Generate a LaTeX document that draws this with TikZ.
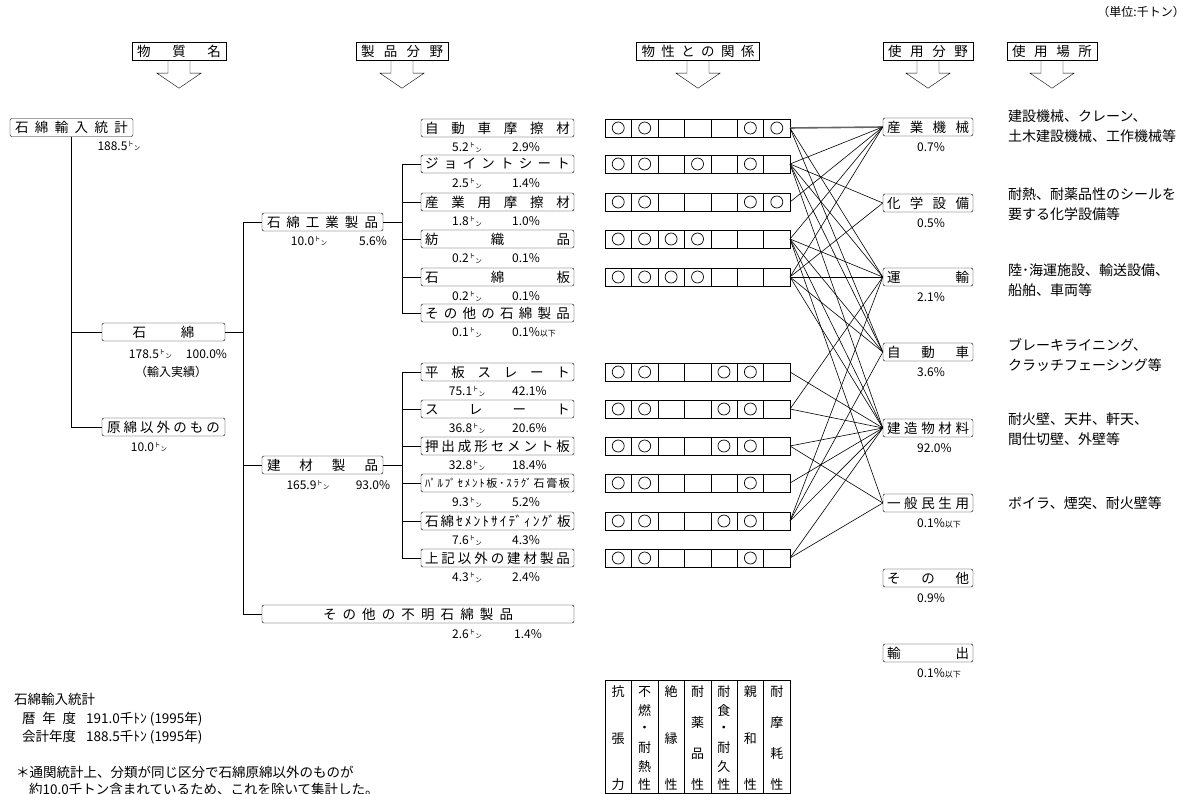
\documentclass[tikz,border=0pt]{standalone}
\usepackage{fontspec}
\setmainfont{Noto Sans CJK JP}
\newcommand{\spr}[2]{\makebox[#1][s]{#2}}
\newcommand{\ika}{{\fontsize{8}{8}\selectfont 以下}}
\newcommand{\ton}{{\fontsize{6.5}{7}\selectfont\raisebox{4pt}{ト}\raisebox{-0.5pt}{ン}}}
\begin{document}
\begin{tikzpicture}[x=1pt, y=-1pt,
    item/.style={draw, rounded corners=2pt, inner sep=0pt, minimum height=18pt, font=\fontsize{13.5}{14}\selectfont},
    head/.style={draw, inner sep=0pt, minimum height=18pt, font=\fontsize{13.5}{14}\selectfont},
    val/.style={inner sep=0pt, font=\fontsize{12}{13}\selectfont},
    note/.style={inner sep=0pt, anchor=west, align=left, font=\fontsize{14}{19.5}\selectfont},
    link/.style={line width=0.6pt}
  ]
  \useasboundingbox (0,0) rectangle (1189,794);

  % headers
  \node[val, anchor=east] (unit) at (1185,12) {（単位:千トン）};
  \node[head, minimum width=94pt] (hdsub) at (179,51) {\spr{84pt}{物 質 名}};
  \node[head, minimum width=92pt] (hdprod) at (402,51) {\spr{82pt}{製 品 分 野}};
  \node[head, minimum width=123pt] (hdprop) at (698,51) {\spr{113pt}{物 性 と の 関 係}};
  \node[head, minimum width=90pt] (hduse) at (928,51) {\spr{80pt}{使 用 分 野}};
  \node[head, minimum width=90pt] (hdsite) at (1052,51) {\spr{80pt}{使 用 場 所}};
  \foreach \h in {hdsub, hdprod, hdprop, hduse, hdsite}
    \draw ([xshift=-11pt]\h.south) -- ++(0,13) -- ++(-11,0) -- ++(22,15) -- ++(22,-15) -- ++(-11,0) -- ([xshift=11pt]\h.south);

  % substance tree
  \node[item, minimum width=123pt] (imp) at (71.5,127.5) {\spr{113pt}{石 綿 輸 入 統 計}};
  \node[val] at (119,146) {188.5\ton};
  \node[item, minimum width=123pt] (asb) at (163.5,332) {\spr{62pt}{石 綿}};
  \node[val] at (178,354) {178.5\ton\hspace{14pt}100.0\%};
  \node[val] at (171,372) {（輸入実績）};
  \node[item, minimum width=123pt] (raw) at (163.5,427) {\spr{113pt}{原 綿 以 外 の も の}};
  \node[val] at (149,447) {10.0\ton};
  \draw (imp.south) |- (asb.west);
  \draw (imp.south) |- (raw.west);

  \node[item, minimum width=121pt] (ind) at (322.5,222) {\spr{111pt}{石 綿 工 業 製 品}};
  \node[val] at (309,241) {10.0\ton};
  \node[val] at (373,241) {5.6\%};
  \node[item, minimum width=121pt] (bld) at (322.5,465) {\spr{111pt}{建 材 製 品}};
  \node[val] at (308,485) {165.9\ton};
  \node[val] at (373,485) {93.0\%};
  \node[item, minimum width=312pt] (unk) at (418,614) {\spr{190pt}{そ の 他 の 不 明 石 綿 製 品}};
  \node[val] at (467,634) {2.6\ton};
  \node[val] at (528,634) {1.4\%};
  \coordinate (asbj) at (243,332);
  \draw (asb.east) -- (asbj) |- (ind.west);
  \draw (asbj) |- (bld.west);
  \draw (asbj) |- (unk.west);

  % products
  \foreach \n/\y/\t/\a/\b in {
      p1/128/{\spr{145pt}{自 動 車 摩 擦 材}}/5.2/2.9\%,
      p2/164/{\spr{145pt}{ジ ョ イ ン ト シ ー ト}}/2.5/1.4\%,
      p3/202/{\spr{145pt}{産 業 用 摩 擦 材}}/1.8/1.0\%,
      p4/239/{\spr{145pt}{紡 織 品}}/0.2/0.1\%,
      p5/277/{\spr{145pt}{石 綿 板}}/0.2/0.1\%,
      p6/313/{\spr{145pt}{そ の 他 の 石 綿 製 品}}/0.1/0.1\%\ika,
      q1/372/{\spr{145pt}{平 板 ス レ ー ト}}/75.1/42.1\%,
      q2/409/{\spr{145pt}{ス レ ー ト}}/36.8/20.6\%,
      q3/446/{\spr{145pt}{押 出 成 形 セ メ ン ト 板}}/32.8/18.4\%,
      q4/483/{\fontsize{11}{11}\selectfont\spr{145pt}{ﾊﾟ ﾙ ﾌﾟ ｾ ﾒ ﾝ ﾄ 板 ･ ｽ ﾗ ｸﾞ 石 膏 板}}/9.3/5.2\%,
      q5/521/{\spr{145pt}{石 綿 ｾ ﾒ ﾝ ﾄ ｻ ｲ ﾃﾞ ｨ ﾝ ｸﾞ 板}}/7.6/4.3\%,
      q6/558/{\spr{145pt}{上 記 以 外 の 建 材 製 品}}/4.3/2.4\%} {
    \node[item, minimum width=153pt] (\n) at (497.5,\y) {\t};
    \node[val] at (467,\y+19.5) {\a\ton};
    \node[val, anchor=west] at (512,\y+19.5) {\b};
  }
  \coordinate (indj) at (402,222);
  \coordinate (bldj) at (402,465);
  \draw[thick] (ind.east) -- (indj);
  \draw[thick] (bld.east) -- (bldj);
  \foreach \p in {p2,p3,p4,p5,p6}
    \draw (indj) |- (\p.west);
  \foreach \p in {q1,q2,q3,q4,q5,q6}
    \draw (bldj) |- (\p.west);

  % property grid
  \foreach \g/\y/\pat in {
      g1/128/{1,1,0,0,0,1,1}, g2/164/{1,1,0,1,0,1,0}, g3/202/{1,1,0,0,0,1,1},
      g4/239/{1,1,1,1,0,0,0}, g5/277/{1,1,1,1,0,0,0},
      h1/372/{1,1,0,0,1,1,0}, h2/409/{1,1,0,0,1,1,0}, h3/446/{1,1,0,0,1,1,0},
      h4/483/{1,1,0,0,0,1,0}, h5/521/{1,1,0,0,1,1,0}, h6/558/{1,1,0,0,0,1,0}} {
    \foreach \c [count=\k] in \pat {
      \draw (605+26.43*\k-26.43,\y-9) rectangle ++(26.43,18);
      \ifnum\c=1 \draw[line width=0.7pt] (605+26.43*\k-13.2,\y) circle (6pt); \fi
    }
    \coordinate (\g) at (790,\y);
  }

  % legend
  \foreach \n/\chars [count=\k] in {3/{抗,張,力}, 6/{不,燃,・,耐,熱,性}, 3/{絶,縁,性},
      4/{耐,薬,品,性}, 6/{耐,食,・,耐,久,性}, 3/{親,和,性}, 4/{耐,摩,耗,性}} {
    \draw (605+26.43*\k-26.43,680) rectangle ++(26.43,113);
    \foreach \ch [count=\j from 0] in \chars
      \node[val, font=\fontsize{13}{13}\selectfont] at ({605+26.43*\k-13.2},{692+\j*93/(\n-1)}) {\ch};
  }

  % usage fields
  \foreach \n/\y/\t/\v in {
      u1/127/{\spr{82pt}{産 業 機 械}}/0.7\%,
      u2/203/{\spr{82pt}{化 学 設 備}}/0.5\%,
      u3/277/{\spr{82pt}{運 輸}}/2.1\%,
      u4/352/{\spr{82pt}{自 動 車}}/3.6\%,
      u5/428/{\spr{82pt}{建 造 物 材 料}}/92.0\%,
      u6/503/{\spr{82pt}{一 般 民 生 用}}/0.1\%\ika,
      u7/578/{\spr{82pt}{そ の 他}}/0.9\%,
      u8/653/{\spr{82pt}{輸 出}}/0.1\%\ika} {
    \node[item, minimum width=90pt] (\n) at (928,\y) {\t};
    \node[val, anchor=west] at (917,\y+20) {\v};
  }

  % links
  \draw[line width=1.6pt, black!60] (g1) -- (u1.west);
  \foreach \g/\u in {g1/u3, g1/u4,
      g2/u1, g2/u2, g2/u3, g2/u4, g2/u5,
      g3/u1,
      g4/u1, g4/u3, g4/u4, g4/u5, g4/u6,
      g5/u1, g5/u2, g5/u3, g5/u4, g5/u5,
      h1/u5, h2/u3, h2/u5, h3/u5, h3/u6, h4/u5,
      h5/u3, h5/u4, h5/u5, h6/u5, h6/u6}
    \draw[link] (\g) -- (\u.west);

  % places of use
  \node[note] (s1) at (1008,126) {建設機械、クレーン、\\土木建設機械、工作機械等};
  \node[note] (s2) at (1008,204) {耐熱、耐薬品性のシールを\\要する化学設備等};
  \node[note] (s3) at (1008,280) {陸･海運施設、輸送設備、\\船舶、車両等};
  \node[note] (s4) at (1008,355) {ブレーキライニング、\\クラッチフェーシング等};
  \node[note] (s5) at (1008,429) {耐火壁、天井、軒天、\\間仕切壁、外壁等};
  \node[note] (s6) at (1008,503) {ボイラ、煙突、耐火壁等};

  % notes
  \node[note, anchor=north west, font=\fontsize{13.5}{18.5}\selectfont] (stat) at (14,693) {石綿輸入統計\\
    \hspace{8pt}\spr{54pt}{暦 年 度}\hspace{10pt}191.0千ﾄﾝ (1995年)\\
    \hspace{8pt}\spr{54pt}{会計年度}\hspace{10pt}188.5千ﾄﾝ (1995年)};
  \node[note, anchor=north west, font=\fontsize{13.5}{17}\selectfont] (foot) at (16,766) {＊通関統計上、分類が同じ区分で石綿原綿以外のものが\\
    \hspace{13pt}約10.0千トン含まれているため、これを除いて集計した。};
\end{tikzpicture}
\end{document}
